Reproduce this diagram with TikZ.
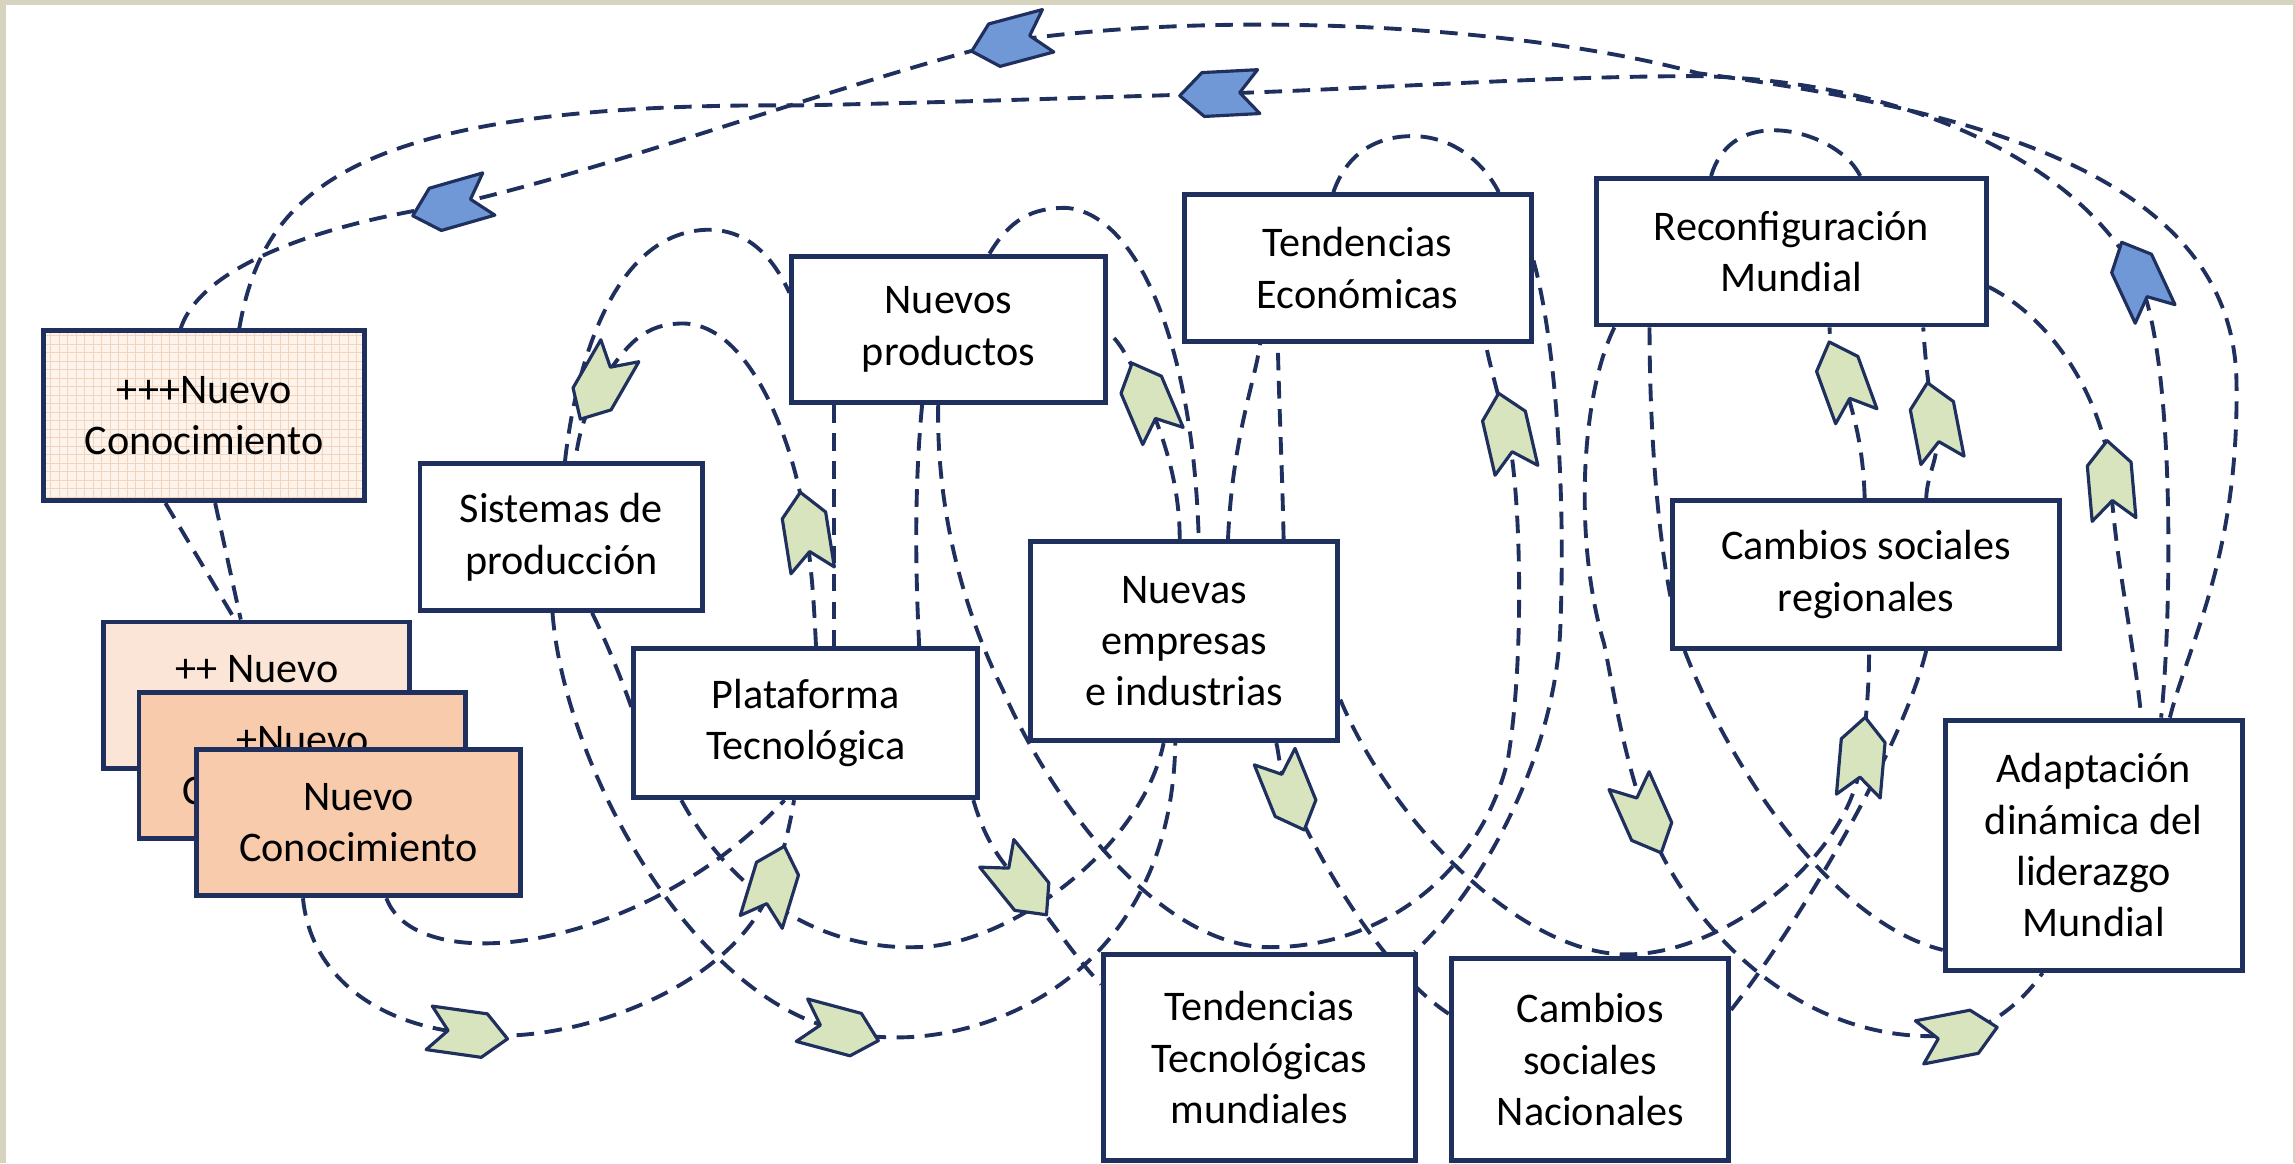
\documentclass[tikz,border=0pt]{standalone}
\usepackage{fontspec}
\setmainfont{Carlito}
\usetikzlibrary{backgrounds}

\definecolor{navy}{RGB}{31,48,94}
\definecolor{marco}{RGB}{214,211,190}
\definecolor{durazno}{RGB}{248,203,173}
\definecolor{durazno2}{RGB}{251,229,214}
\definecolor{durazno3}{RGB}{253,243,235}
\definecolor{rejilla}{RGB}{240,212,190}
\definecolor{hoja}{RGB}{215,228,189}
\definecolor{cielo}{RGB}{112,152,214}

\tikzset{
  caja/.style={draw=navy, line width=1.4pt, fill=white, align=center, inner sep=2pt,
    font=\fontsize{12}{14.6}\selectfont},
  flujo/.style={draw=navy, line width=1.1pt, dash pattern=on 5pt off 3pt},
  chev/.pic={\path[pic actions] (27,0) -- (11,-15) -- (-27,-15) -- (-14,0) -- (-27,15) -- (11,15) -- cycle;},
  verde/.style={draw=navy, fill=hoja, line width=0.9pt, line join=round},
  azul/.style={draw=navy, fill=cielo, line width=0.9pt, line join=round}
}

\begin{document}
\begin{tikzpicture}[x=0.014636cm, y=-0.014636cm]
  \useasboundingbox (0,0) rectangle (1568,794.6);

  % cajas
  \node[caja, minimum width=3.205cm, minimum height=1.698cm, fill=durazno3,
    path picture={\draw[rejilla, line width=0.3pt, step=0.085cm] (path picture bounding box.south west) grid (path picture bounding box.north east);}]
    (pkb) at (139.5,284) {+++Nuevo\\Conocimiento};
  \node[caja, minimum width=3.059cm, minimum height=1.464cm, fill=durazno2] (ppk) at (175.5,475) {++ Nuevo\\Conocimiento};
  \node[caja, minimum width=3.264cm, minimum height=1.464cm, fill=durazno] (pk) at (206.5,523) {+Nuevo\\Conocimiento};
  \node[caja, minimum width=3.235cm, minimum height=1.464cm, fill=durazno] (nk) at (245,562) {Nuevo\\Conocimiento};

  \node[caja, minimum width=2.825cm, minimum height=1.464cm] (sis) at (383.5,367) {Sistemas de\\producción};
  \node[caja, minimum width=3.132cm, minimum height=1.464cm] (npr) at (648,225) {Nuevos\\productos};
  \node[caja, minimum width=3.469cm, minimum height=1.464cm] (tec) at (927.5,183) {Tendencias\\Económicas};
  \node[caja, minimum width=3.893cm, minimum height=1.464cm] (rec) at (1224,172) {Reconfiguración\\Mundial};
  \node[caja, minimum width=3.439cm, minimum height=1.493cm] (pla) at (550.5,494) {Plataforma\\Tecnológica};
  \node[caja, minimum width=3.074cm, minimum height=1.991cm] (nem) at (809,438) {Nuevas\\empresas\\e industrias};
  \node[caja, minimum width=3.864cm, minimum height=1.478cm] (csr) at (1275,392.5) {Cambios sociales\\regionales};
  \node[caja, minimum width=2.971cm, minimum height=2.503cm] (adl) at (1430.5,577.5) {Adaptación\\dinámica del\\liderazgo\\Mundial};
  \node[caja, minimum width=3.117cm, minimum height=2.064cm] (ttm) at (860.5,722.5) {Tendencias\\Tecnológicas\\mundiales};
  \node[caja, minimum width=2.766cm, minimum height=2.02cm] (csn) at (1086.5,724) {Cambios\\sociales\\Nacionales};

  % puntas
  \coordinate (b1) at (690,28);
  \coordinate (b2) at (833,64);
  \coordinate (b3) at (308,140);
  \coordinate (b4) at (1461,190);
  \coordinate (g1) at (410,263);
  \coordinate (g2) at (551,363);
  \coordinate (g3) at (784,273);
  \coordinate (g4) at (1030,295);
  \coordinate (g5) at (1259,259);
  \coordinate (g6) at (1322,288);
  \coordinate (g7) at (1442,328);
  \coordinate (g8) at (1272,517);
  \coordinate (g9) at (1124,558);
  \coordinate (g10) at (881,542);
  \coordinate (g11) at (698,604);
  \coordinate (g12) at (528,604);
  \coordinate (g13) at (320,706);
  \coordinate (g14) at (574,704);
  \coordinate (g15) at (1338,707);

  \begin{pgfonlayer}{background}
    \fill[marco] (0,0) rectangle (1568,794.6);
    \fill[white] (4.1,3.4) rectangle (1566.6,794.6);

    % lazos de arriba
    \draw[flujo] ([shift={(24,0)}]pkb.north) .. controls (180,130) and (240,70) .. (546,72)
      .. controls (650,70) and (760,66) .. (b2) .. controls (950,60) and (1060,52) .. (1160,52)
      .. controls (1300,55) and (1420,110) .. (b4) .. controls (1486,244) and (1484,420) .. ([shift={(46,0)}]adl.north);
    \draw[flujo] ([shift={(-16,0)}]pkb.north) .. controls (138,180) and (225,152) .. (b3)
      .. controls (420,115) and (580,55) .. (b1) .. controls (850,5) and (1050,20) .. (1160,50)
      .. controls (1350,75) and (1525,120) .. (1528,260) .. controls (1530,380) and (1495,440) .. ([shift={(52,0)}]adl.north);
    \draw[flujo] ([shift={(0,24)}]rec.east) .. controls (1410,222) and (1440,285) .. (g7)
      .. controls (1445,380) and (1458,440) .. ([shift={(32.5,0)}]adl.north);

    % arcos sobre cajas
    \draw[flujo] ([shift={(-55,0)}]rec.north) .. controls (1175,100) and (1190,89) .. (1212,89)
      .. controls (1235,89) and (1262,102) .. ([shift={(47,0)}]rec.north);
    \draw[flujo] ([shift={(-16.5,0)}]tec.north) .. controls (920,105) and (940,93) .. (965,93)
      .. controls (990,93) and (1012,108) .. ([shift={(96.5,0)}]tec.north);
    \draw[flujo] ([shift={(28,0)}]npr.north) .. controls (690,150) and (705,142) .. (728,142)
      .. controls (775,145) and (815,230) .. ([shift={(10,0)}]nem.north);

    % centro
    \draw[flujo] ([shift={(-3,0)}]nem.north) .. controls (806,340) and (800,310) .. (g3)
      .. controls (772,245) and (764,232) .. ([shift={(0,2)}]npr.east);
    \draw[flujo] ([shift={(30,0)}]nem.north) .. controls (842,300) and (857,262) .. ([shift={(-66.5,0)}]tec.south);
    \draw[flujo] ([shift={(68,0)}]nem.north) .. controls (876,320) and (874,280) .. ([shift={(-54.5,0)}]tec.south);
    \draw[flujo] ([shift={(0,-5)}]tec.east) .. controls (1062,230) and (1070,330) .. (1066,430)
      .. controls (1062,520) and (1010,610) .. ([shift={(106,0)}]ttm.north);
    \draw[flujo] ([shift={(-7,0)}]npr.south) .. controls (640,330) and (650,400) .. (685,471)
      .. controls (710,530) and (780,640) .. (861,647) .. controls (940,650) and (1010,600) .. (1030,520)
      .. controls (1042,450) and (1039,334) .. (g4) .. controls (1024,271) and (1018,250) .. ([shift={(87.5,0)}]tec.south);
    \draw[flujo] ([shift={(-18,0)}]npr.south) .. controls (624,340) and (626,400) .. ([shift={(77.5,0)}]pla.north);
    \draw[flujo] ([shift={(114.5,0)}]pla.south) .. controls (672,570) and (680,585) .. (g11)
      .. controls (717,627) and (735,655) .. ([shift={(0,-50)}]ttm.west);
    \draw[flujo] ([shift={(63,0)}]nem.south) .. controls (874,515) and (873,522) .. (g10)
      .. controls (895,575) and (940,660) .. ([shift={(0,-31)}]csn.west);

    % izquierda
    \draw[flujo] ([shift={(21,0)}]sis.south) .. controls (415,440) and (425,465) .. ([shift={(0,-11)}]pla.west);
    \draw[flujo] ([shift={(-85,0)}]pla.south) .. controls (500,610) and (560,650) .. (629,647)
      .. controls (690,645) and (780,580) .. ([shift={(-14,0)}]nem.south);
    \draw[flujo] ([shift={(-6,0)}]sis.south) .. controls (385,520) and (470,680) .. (g14)
      .. controls (650,725) and (800,680) .. ([shift={(-6,0)}]nem.south);
    \draw[flujo] ([shift={(-38,0)}]nk.south) .. controls (212,665) and (255,700) .. (g13)
      .. controls (380,716) and (500,680) .. (g12) .. controls (536,580) and (540,562) .. ([shift={(-8,0)}]pla.south);
    \draw[flujo] ([shift={(19,0)}]nk.south) .. controls (285,670) and (440,650) .. ([shift={(-14.5,0)}]pla.south);
    \draw[flujo] ([shift={(7,0)}]pla.north) .. controls (556,410) and (555,395) .. (g2)
      .. controls (545,310) and (515,222) .. (467,221) .. controls (440,221) and (428,235) .. (g1)
      .. controls (398,285) and (395,300) .. ([shift={(9.5,0)}]sis.north);
    \draw[flujo] ([shift={(2.5,0)}]sis.north) .. controls (392,260) and (415,160) .. (482,157)
      .. controls (510,156) and (528,175) .. ([shift={(0,-25)}]npr.west);
    \draw[flujo] ([shift={(-78,0)}]npr.south) -- ([shift={(19.5,0)}]pla.north);
    \draw[flujo] ([shift={(-26.5,0)}]pkb.south) -- ([shift={(-15,0)}]ppk.north);
    \draw[flujo] ([shift={(7.5,0)}]pkb.south) -- ([shift={(-11,0)}]ppk.north);

    % derecha
    \draw[flujo] ([shift={(-121,0)}]rec.south) .. controls (1080,270) and (1075,370) .. (1096,440)
      .. controls (1103,475) and (1108,510) .. (g9) .. controls (1150,630) and (1230,718) .. (g15)
      .. controls (1365,700) and (1385,680) .. ([shift={(-35,0)}]adl.south);
    \draw[flujo] ([shift={(-97,0)}]rec.south) .. controls (1127,290) and (1132,360) .. ([shift={(0,15)}]csr.west);
    \draw[flujo] ([shift={(-124,0)}]csr.south) .. controls (1180,520) and (1250,630) .. ([shift={(0,71.5)}]adl.west);
    \draw[flujo] ([shift={(-1,0)}]csr.north) .. controls (1273,310) and (1269,290) .. (g5)
      .. controls (1252,240) and (1250,232) .. ([shift={(26,0)}]rec.south);
    \draw[flujo] ([shift={(0,40)}]nem.east) .. controls (950,560) and (1040,655) .. (1115,652)
      .. controls (1180,650) and (1265,585) .. (g8) .. controls (1275,490) and (1277,470) .. ([shift={(2,0)}]csr.south);
    \draw[flujo] ([shift={(0,-34)}]csn.east) .. controls (1230,630) and (1300,510) .. ([shift={(41,0)}]csr.south);
    \draw[flujo] ([shift={(41,0)}]csr.north) .. controls (1317,320) and (1327,312) .. (g6)
      .. controls (1317,264) and (1315,240) .. ([shift={(90,0)}]rec.south);
  \end{pgfonlayer}

  % flechas
  \pic[azul, rotate=195] at (b1) {chev};
  \pic[azul, rotate=183] at (b2) {chev};
  \pic[azul, rotate=196] at (b3) {chev};
  \pic[azul, rotate=115] at (b4) {chev};
  \pic[verde, rotate=240] at (g1) {chev};
  \pic[verde, rotate=99] at (g2) {chev};
  \pic[verde, rotate=113] at (g3) {chev};
  \pic[verde, rotate=103] at (g4) {chev};
  \pic[verde, rotate=110] at (g5) {chev};
  \pic[verde, rotate=101] at (g6) {chev};
  \pic[verde, rotate=95] at (g7) {chev};
  \pic[verde, rotate=85] at (g8) {chev};
  \pic[verde, rotate=294] at (g9) {chev};
  \pic[verde, rotate=292] at (g10) {chev};
  \pic[verde, rotate=309] at (g11) {chev};
  \pic[verde, rotate=73] at (g12) {chev};
  \pic[verde, rotate=-8] at (g13) {chev};
  \pic[verde, rotate=-15] at (g14) {chev};
  \pic[verde, rotate=11] at (g15) {chev};
\end{tikzpicture}
\end{document}
